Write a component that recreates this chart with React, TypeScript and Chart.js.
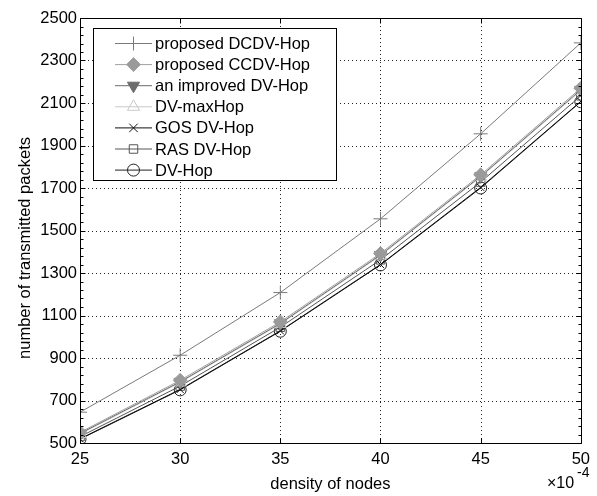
import React, { useEffect, useRef } from "react";
import { Chart, registerables } from "chart.js";

Chart.register(...registerables);

const densities = [25, 30, 35, 40, 45, 50];
const yTicks = [500, 700, 900, 1100, 1300, 1500, 1700, 1900, 2100, 2300, 2500];

const seriesNames = [
  "proposed DCDV-Hop",
  "proposed CCDV-Hop",
  "an improved DV-Hop",
  "DV-maxHop",
  "GOS DV-Hop",
  "RAS DV-Hop",
  "DV-Hop",
];

const dcdvHop = [645, 913, 1208, 1555, 1955, 2383];
const ccdvHop = [550, 795, 1070, 1392, 1762, 2170];
const improvedDvHop = [545, 788, 1063, 1385, 1755, 2162];
const dvMaxHop = [542, 785, 1060, 1382, 1752, 2158];
const gosDvHop = [520, 752, 1028, 1340, 1703, 2108];
const rasDvHop = [530, 768, 1045, 1362, 1728, 2134];
const dvHop = [518, 750, 1026, 1338, 1700, 2106];

const seriesValues = [dcdvHop, ccdvHop, improvedDvHop, dvMaxHop, gosDvHop, rasDvHop, dvHop];

type Style = {
  color: string;
  marker: string;
  fill: string;
  radius: number;
};

const styles: Style[] = [
  { color: "#7a7a7a", marker: "cross", fill: "rgba(0,0,0,0)", radius: 7 },
  { color: "#a0a0a0", marker: "diamond", fill: "#9a9a9a", radius: 7 },
  { color: "#6c6c6c", marker: "triangleDown", fill: "#6c6c6c", radius: 7 },
  { color: "#c8c8c8", marker: "triangle", fill: "rgba(0,0,0,0)", radius: 7 },
  { color: "#111111", marker: "crossRot", fill: "rgba(0,0,0,0)", radius: 5 },
  { color: "#555555", marker: "rect", fill: "rgba(0,0,0,0)", radius: 6 },
  { color: "#222222", marker: "circle", fill: "rgba(0,0,0,0)", radius: 6 },
];

const FONT = "'Liberation Sans', Arial, sans-serif";

function chartPointStyle(m: string): any {
  switch (m) {
    case "cross": return "cross";
    case "diamond": return "rectRot";
    case "triangleDown": return "triangle";
    case "triangle": return "triangle";
    case "crossRot": return "crossRot";
    case "rect": return "rect";
    default: return "circle";
  }
}

function drawMarker(ctx: CanvasRenderingContext2D, s: Style, x: number, y: number) {
  const r = s.radius;
  ctx.save();
  ctx.strokeStyle = s.color;
  ctx.fillStyle = s.fill;
  ctx.lineWidth = 1;
  ctx.beginPath();
  switch (s.marker) {
    case "cross":
      ctx.moveTo(x - r, y); ctx.lineTo(x + r, y);
      ctx.moveTo(x, y - r); ctx.lineTo(x, y + r);
      ctx.stroke();
      break;
    case "crossRot": {
      const d = r * Math.SQRT1_2 * 1.2;
      ctx.moveTo(x - d, y - d); ctx.lineTo(x + d, y + d);
      ctx.moveTo(x - d, y + d); ctx.lineTo(x + d, y - d);
      ctx.stroke();
      break;
    }
    case "diamond":
      ctx.moveTo(x, y - r); ctx.lineTo(x + r, y); ctx.lineTo(x, y + r); ctx.lineTo(x - r, y);
      ctx.closePath(); ctx.fill(); ctx.stroke();
      break;
    case "triangleDown":
      ctx.moveTo(x, y + r);
      ctx.lineTo(x - r * 0.866, y - r * 0.5);
      ctx.lineTo(x + r * 0.866, y - r * 0.5);
      ctx.closePath(); ctx.fill(); ctx.stroke();
      break;
    case "triangle":
      ctx.moveTo(x, y - r);
      ctx.lineTo(x - r * 0.866, y + r * 0.5);
      ctx.lineTo(x + r * 0.866, y + r * 0.5);
      ctx.closePath(); ctx.stroke();
      break;
    case "rect": {
      const h = r * Math.SQRT1_2;
      ctx.rect(x - h, y - h, 2 * h, 2 * h);
      ctx.stroke();
      break;
    }
    default:
      ctx.arc(x, y, r, 0, Math.PI * 2);
      ctx.stroke();
  }
  ctx.restore();
}

const overlay = {
  id: "overlay",
  beforeDatasetsDraw(chart: any) {
    const { ctx, chartArea: a, scales } = chart;
    const xs = scales.x, ys = scales.y;
    ctx.save();
    ctx.strokeStyle = "#222";
    ctx.lineWidth = 1;
    ctx.setLineDash([1, 3]);
    ctx.beginPath();
    for (const v of densities) {
      const px = Math.round(xs.getPixelForValue(v)) + 0.5;
      ctx.moveTo(px, a.top); ctx.lineTo(px, a.bottom);
    }
    for (const v of yTicks) {
      const py = Math.round(ys.getPixelForValue(v)) + 0.5;
      ctx.moveTo(a.left, py); ctx.lineTo(a.right, py);
    }
    ctx.stroke();
    ctx.restore();
  },
  afterDatasetsDraw(chart: any) {
    const { ctx, chartArea: a, scales } = chart;
    const xs = scales.x, ys = scales.y;
    ctx.save();
    ctx.strokeStyle = "#000";
    ctx.lineWidth = 1;
    ctx.setLineDash([]);
    const L = Math.round(a.left) + 0.5, R = Math.round(a.right) + 0.5;
    const T = Math.round(a.top) + 0.5, B = Math.round(a.bottom) + 0.5;
    ctx.beginPath();
    ctx.rect(L, T, R - L, B - T);
    for (const v of densities) {
      const px = Math.round(xs.getPixelForValue(v)) + 0.5;
      ctx.moveTo(px, B); ctx.lineTo(px, B - 5);
      ctx.moveTo(px, T); ctx.lineTo(px, T + 5);
    }
    for (let v = yTicks[0]; v <= yTicks[yTicks.length - 1]; v += 40) {
      const py = Math.round(ys.getPixelForValue(v)) + 0.5;
      const len = (v - yTicks[0]) % 200 === 0 ? 5 : 3;
      ctx.moveTo(L, py); ctx.lineTo(L + len, py);
      ctx.moveTo(R, py); ctx.lineTo(R - len, py);
    }
    ctx.stroke();

    // legend
    const lx = 93.5, ly = 28.5, lw = 243, lh = 152;
    ctx.fillStyle = "#fff";
    ctx.fillRect(lx, ly, lw, lh);
    ctx.strokeStyle = "#000";
    ctx.strokeRect(lx, ly, lw, lh);
    ctx.font = `16.5px ${FONT}`;
    ctx.textBaseline = "middle";
    ctx.textAlign = "left";
    for (let i = 0; i < seriesNames.length; i++) {
      const s = styles[i];
      const cy = 43.5 + i * 21.1;
      ctx.strokeStyle = s.color;
      ctx.lineWidth = 1;
      ctx.beginPath();
      ctx.moveTo(115, cy); ctx.lineTo(152, cy);
      ctx.stroke();
      drawMarker(ctx, s, 133.5, cy);
      ctx.fillStyle = "#000";
      ctx.fillText(seriesNames[i], 155, cy + 1);
    }

    // axis titles
    ctx.fillStyle = "#000";
    ctx.font = `16.5px ${FONT}`;
    ctx.textAlign = "center";
    ctx.textBaseline = "middle";
    ctx.fillText("density of nodes", (a.left + a.right) / 2, 484);
    ctx.save();
    ctx.translate(25, 248);
    ctx.rotate(-Math.PI / 2);
    ctx.fillText("number of transmitted packets", 0, 0);
    ctx.restore();

    // exponent
    ctx.textAlign = "left";
    ctx.font = `16px ${FONT}`;
    ctx.fillText("\u00d710", 547, 484);
    ctx.font = `14px ${FONT}`;
    ctx.fillText("-4", 577, 473);
    ctx.restore();
  },
};

export default function App() {
  const ref = useRef<HTMLCanvasElement | null>(null);
  useEffect(() => {
    if (!ref.current) return;
    const datasets = seriesNames.map((name, i) => {
      const s = styles[i];
      return {
        label: name,
        data: densities.map((d, j) => ({ x: d, y: seriesValues[i][j] })),
        borderColor: s.color,
        backgroundColor: s.fill,
        borderWidth: 1,
        pointStyle: chartPointStyle(s.marker),
        pointRotation: s.marker === "triangleDown" ? 180 : 0,
        pointRadius: s.radius,
        pointBorderColor: s.color,
        pointBackgroundColor: s.fill,
        pointBorderWidth: 1,
        pointHoverRadius: s.radius,
        tension: 0,
        fill: false,
      };
    });
    const chart = new Chart(ref.current, {
      type: "line",
      data: { datasets },
      options: {
        animation: false,
        responsive: true,
        maintainAspectRatio: false,
        layout: { padding: { left: 0, right: 8, top: 18, bottom: 0 } },
        plugins: { legend: { display: false }, tooltip: { enabled: false } },
        scales: {
          x: {
            type: "linear",
            min: 25,
            max: 50,
            afterBuildTicks: (scale: any) => {
              scale.ticks = densities.map((v) => ({ value: v }));
            },
            afterFit: (scale: any) => { scale.height = 53; },
            grid: { display: false, drawTicks: false },
            border: { display: false },
            ticks: {
              color: "#000",
              font: { size: 16.5, family: FONT },
              padding: 7,
              maxRotation: 0,
              callback: (v: any) => String(v),
            },
          },
          y: {
            type: "linear",
            min: 500,
            max: 2500,
            afterBuildTicks: (scale: any) => {
              scale.ticks = yTicks.map((v) => ({ value: v }));
            },
            afterFit: (scale: any) => { scale.width = 80; },
            grid: { display: false, drawTicks: false },
            border: { display: false },
            ticks: {
              color: "#000",
              font: { size: 16.5, family: FONT },
              padding: 3,
              callback: (v: any) => String(v),
            },
          },
        },
      },
      plugins: [overlay],
    } as any);
    return () => chart.destroy();
  }, []);
  return (
    <div style={{ position: "absolute", left: 0, top: 0, width: 597, height: 496, background: "#fff" }}>
      <canvas ref={ref} />
    </div>
  );
}
